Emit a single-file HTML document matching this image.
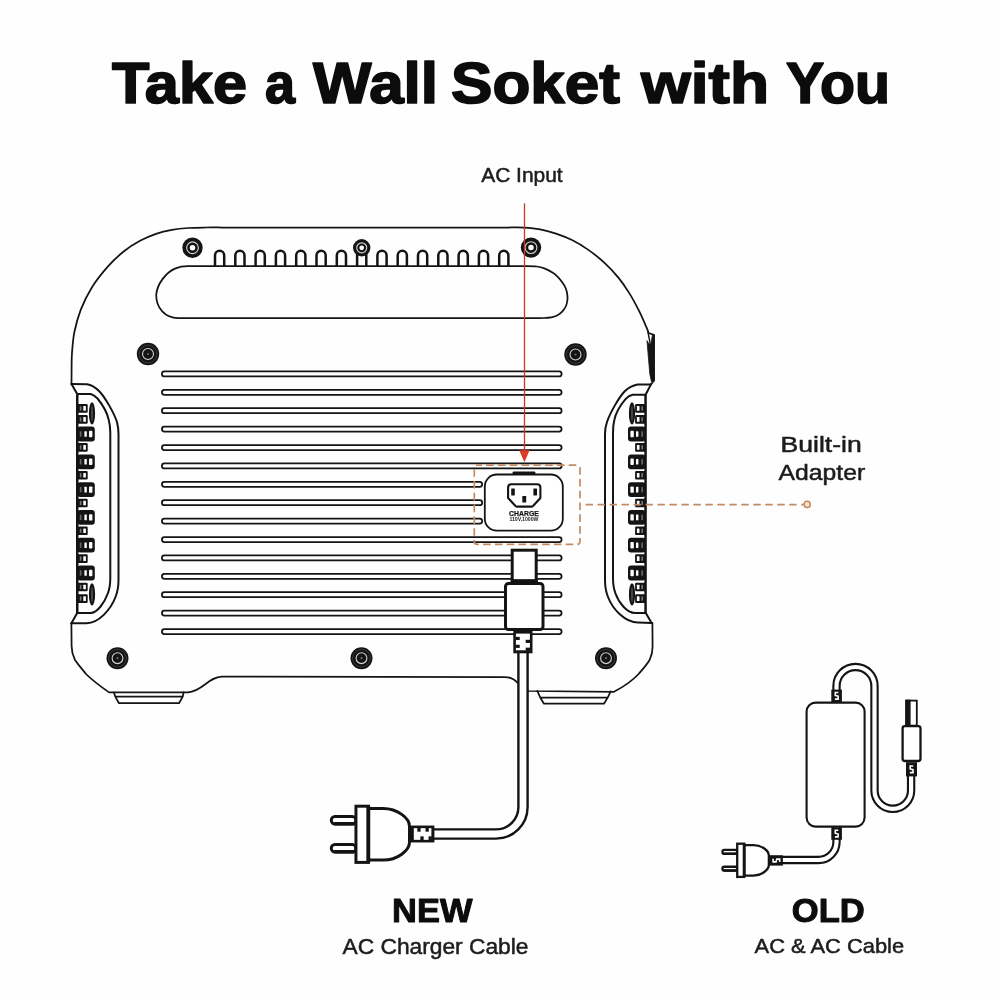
<!DOCTYPE html>
<html lang="en">
<head>
<meta charset="utf-8">
<title>Take a Wall Soket with You</title>
<style>
html,body{margin:0;padding:0;background:#fefefe;}
body{width:1000px;height:1000px;overflow:hidden;font-family:"Liberation Sans",sans-serif;}
svg{display:block;font-family:"Liberation Sans",sans-serif;}
</style>
</head>
<body>
<svg width="1000" height="1000" viewBox="0 0 1000 1000">
<defs><filter id="gs" filterUnits="userSpaceOnUse" x="0" y="0" width="1000" height="1000" color-interpolation-filters="sRGB"><feColorMatrix type="saturate" values="0"/></filter></defs>
<rect width="1000" height="1000" fill="#fefefe"/>
<text filter="url(#gs)" x="112.0" y="103.0" textLength="135.01" lengthAdjust="spacingAndGlyphs" font-size="57.0" font-weight="700" fill="#0c0c0c" stroke="#0c0c0c" stroke-width="1.7" stroke-linejoin="round">Take</text>
<text filter="url(#gs)" x="265.0" y="103.0" textLength="30.0" lengthAdjust="spacingAndGlyphs" font-size="57.0" font-weight="700" fill="#0c0c0c" stroke="#0c0c0c" stroke-width="1.7" stroke-linejoin="round">a</text>
<text filter="url(#gs)" x="313.02" y="103.0" textLength="125.03" lengthAdjust="spacingAndGlyphs" font-size="57.0" font-weight="700" fill="#0c0c0c" stroke="#0c0c0c" stroke-width="1.7" stroke-linejoin="round">Wall</text>
<text filter="url(#gs)" x="450.99" y="103.0" textLength="169.01" lengthAdjust="spacingAndGlyphs" font-size="57.0" font-weight="700" fill="#0c0c0c" stroke="#0c0c0c" stroke-width="1.7" stroke-linejoin="round">Soket</text>
<text filter="url(#gs)" x="641.02" y="103.0" textLength="128.03" lengthAdjust="spacingAndGlyphs" font-size="57.0" font-weight="700" fill="#0c0c0c" stroke="#0c0c0c" stroke-width="1.7" stroke-linejoin="round">with</text>
<text filter="url(#gs)" x="786.0" y="103.0" textLength="104.09" lengthAdjust="spacingAndGlyphs" font-size="57.0" font-weight="700" fill="#0c0c0c" stroke="#0c0c0c" stroke-width="1.7" stroke-linejoin="round">You</text>
<text filter="url(#gs)" x="481.19" y="181.5" textLength="81.52" lengthAdjust="spacingAndGlyphs" font-size="20.5" font-weight="400" fill="#1c1c1c" stroke="#1c1c1c" stroke-width="0.5" stroke-linejoin="round">AC Input</text>
<text filter="url(#gs)" x="780.52" y="452" textLength="81.24" lengthAdjust="spacingAndGlyphs" font-size="21.2" font-weight="400" fill="#1c1c1c" stroke="#1c1c1c" stroke-width="0.5" stroke-linejoin="round">Built-in</text>
<text filter="url(#gs)" x="778.59" y="480.4" textLength="86.61" lengthAdjust="spacingAndGlyphs" font-size="21.2" font-weight="400" fill="#1c1c1c" stroke="#1c1c1c" stroke-width="0.5" stroke-linejoin="round">Adapter</text>
<text filter="url(#gs)" x="392.14" y="922.4" textLength="80.37" lengthAdjust="spacingAndGlyphs" font-size="34.0" font-weight="700" fill="#0c0c0c" stroke="#0c0c0c" stroke-width="1.0" stroke-linejoin="round">NEW</text>
<text filter="url(#gs)" x="342.49" y="953.8" textLength="186.02" lengthAdjust="spacingAndGlyphs" font-size="22" font-weight="400" fill="#1c1c1c" stroke="#1c1c1c" stroke-width="0.5" stroke-linejoin="round">AC Charger Cable</text>
<text filter="url(#gs)" x="791.77" y="921.7" textLength="72.95" lengthAdjust="spacingAndGlyphs" font-size="33.7" font-weight="700" fill="#0c0c0c" stroke="#0c0c0c" stroke-width="1.0" stroke-linejoin="round">OLD</text>
<text filter="url(#gs)" x="754.59" y="953.4" textLength="149.52" lengthAdjust="spacingAndGlyphs" font-size="20.8" font-weight="400" fill="#1c1c1c" stroke="#1c1c1c" stroke-width="0.5" stroke-linejoin="round">AC &amp; AC Cable</text>
<g fill="none" stroke="#141414" stroke-width="1.75" stroke-linecap="round" stroke-linejoin="round">
<path d="M71.5,384 L71.6,366 C71.67,363.80 71.53,358.47 72.00,352.80 C72.47,347.13 72.93,339.20 74.40,332.00 C75.87,324.80 77.87,317.07 80.80,309.60 C83.73,302.13 87.47,294.40 92.00,287.20 C96.53,280.00 102.67,272.40 108.00,266.40 C113.33,260.40 118.67,255.47 124.00,251.20 C129.33,246.93 134.67,243.70 140.00,240.80 C145.33,237.90 150.67,235.63 156.00,233.80 C161.33,231.97 166.67,230.77 172.00,229.80 C177.33,228.83 182.33,228.38 188.00,228.00 C193.67,227.62 200.33,227.58 206.00,227.50 C211.67,227.42 219.33,227.50 222.00,227.50 L508,227.5 C510.67,227.52 518.67,227.30 524.00,227.60 C529.33,227.90 534.67,228.30 540.00,229.30 C545.33,230.30 550.67,231.82 556.00,233.60 C561.33,235.38 566.67,237.33 572.00,240.00 C577.33,242.67 582.67,245.87 588.00,249.60 C593.33,253.33 598.93,257.73 604.00,262.40 C609.07,267.07 614.13,272.40 618.40,277.60 C622.67,282.80 626.13,288.00 629.60,293.60 C633.07,299.20 636.40,305.60 639.20,311.20 C642.00,316.80 644.83,323.57 646.40,327.20 C647.97,330.83 648.23,332.03 648.60,333.00 L654,334.8 L653.8,380.8 L650.8,384.6 M652.4,623 L652.6,647 C652.6,653 651,657 649.6,660 C646,666 641,671 638.6,674 C633,680 625,686 614,691.8 L529,691 C520,690 518,677 505,677 L222,676.6 C208,677 203,691 188,692.4 L109,692.4 C100,686 92,680 86,674 C84,671 79,666 75,660 C73.5,657 71.6,653 71.6,646 L71.4,623.2"/>
<path d="M114,692.4 L115.2,696.6 L119,703.2 L179,703.2 L182.8,696.6 L183.6,692.4 M115.2,696.6 L182.8,696.6"/>
<path d="M537.3,691 L540.3,697.7 L544,703.7 L604,703.7 L607.7,697.6 L610.7,691.4 M540.3,697.7 L607.7,697.6"/>
<path d="M647,341 L649.8,374 L651.4,381.5 L654.5,381 L654.5,335.4 L652.4,335 L650.6,346 Z" fill="#141414" stroke="#141414" stroke-width="0.8"/>
<path d="M648,332 L650.4,345" stroke-width="1.4"/>
<path d="M188,266.2 L524,266.2 C526.13,266.25 533.30,266.10 536.80,266.50 C540.30,266.90 542.33,267.55 545.00,268.60 C547.67,269.65 550.63,271.37 552.80,272.80 C554.97,274.23 556.40,275.57 558.00,277.20 C559.60,278.83 561.13,280.80 562.40,282.60 C563.67,284.40 564.80,286.10 565.60,288.00 C566.40,289.90 566.90,292.00 567.20,294.00 C567.50,296.00 567.60,298.00 567.40,300.00 C567.20,302.00 566.83,304.10 566.00,306.00 C565.17,307.90 563.82,309.85 562.40,311.40 C560.98,312.95 559.37,314.30 557.50,315.30 C555.63,316.30 553.45,316.95 551.20,317.40 C548.95,317.85 547.53,317.90 544.00,318.00 C540.47,318.10 532.33,318.00 530.00,318.00 L178,318 C165,318 156.2,308 156.2,295 C157,284 166,272.5 175,268.6 C179,266.9 183,266.2 188,266.2 Z"/>
<rect x="161.9" y="371.40" width="399.70000000000005" height="5.0" rx="2.5" stroke-width="1.75"/>
<rect x="161.9" y="389.80" width="399.70000000000005" height="5.0" rx="2.5" stroke-width="1.75"/>
<rect x="161.9" y="408.20" width="399.70000000000005" height="5.0" rx="2.5" stroke-width="1.75"/>
<rect x="161.9" y="426.60" width="399.70000000000005" height="5.0" rx="2.5" stroke-width="1.75"/>
<rect x="161.9" y="445.00" width="399.70000000000005" height="5.0" rx="2.5" stroke-width="1.75"/>
<rect x="161.9" y="463.40" width="399.70000000000005" height="5.0" rx="2.5" stroke-width="1.75"/>
<rect x="161.9" y="481.80" width="320.29999999999995" height="5.0" rx="2.5" stroke-width="1.75"/>
<rect x="161.9" y="500.20" width="320.29999999999995" height="5.0" rx="2.5" stroke-width="1.75"/>
<rect x="161.9" y="518.60" width="320.29999999999995" height="5.0" rx="2.5" stroke-width="1.75"/>
<rect x="161.9" y="537.00" width="399.70000000000005" height="5.0" rx="2.5" stroke-width="1.75"/>
<rect x="161.9" y="555.40" width="399.70000000000005" height="5.0" rx="2.5" stroke-width="1.75"/>
<rect x="161.9" y="573.80" width="399.70000000000005" height="5.0" rx="2.5" stroke-width="1.75"/>
<rect x="161.9" y="592.20" width="399.70000000000005" height="5.0" rx="2.5" stroke-width="1.75"/>
<rect x="161.9" y="610.60" width="399.70000000000005" height="5.0" rx="2.5" stroke-width="1.75"/>
<rect x="161.9" y="629.00" width="399.70000000000005" height="5.0" rx="2.5" stroke-width="1.75"/>
</g>
<g fill="none" stroke="#141414" stroke-width="2.5" stroke-linecap="butt">
<path d="M215.0,266.4 L215.0,255.4 A4.6,4.6 0 0 1 224.2,255.4 L224.2,266.4"/>
<path d="M235.3,266.4 L235.3,255.4 A4.6,4.6 0 0 1 244.5,255.4 L244.5,266.4"/>
<path d="M255.6,266.4 L255.6,255.4 A4.6,4.6 0 0 1 264.8,255.4 L264.8,266.4"/>
<path d="M275.9,266.4 L275.9,255.4 A4.6,4.6 0 0 1 285.1,255.4 L285.1,266.4"/>
<path d="M296.2,266.4 L296.2,255.4 A4.6,4.6 0 0 1 305.4,255.4 L305.4,266.4"/>
<path d="M316.5,266.4 L316.5,255.4 A4.6,4.6 0 0 1 325.7,255.4 L325.7,266.4"/>
<path d="M336.8,266.4 L336.8,255.4 A4.6,4.6 0 0 1 346.0,255.4 L346.0,266.4"/>
<path d="M357.1,266.4 L357.1,255.4 A4.6,4.6 0 0 1 366.3,255.4 L366.3,266.4"/>
<path d="M377.4,266.4 L377.4,255.4 A4.6,4.6 0 0 1 386.6,255.4 L386.6,266.4"/>
<path d="M397.7,266.4 L397.7,255.4 A4.6,4.6 0 0 1 406.9,255.4 L406.9,266.4"/>
<path d="M418.0,266.4 L418.0,255.4 A4.6,4.6 0 0 1 427.2,255.4 L427.2,266.4"/>
<path d="M438.3,266.4 L438.3,255.4 A4.6,4.6 0 0 1 447.5,255.4 L447.5,266.4"/>
<path d="M458.6,266.4 L458.6,255.4 A4.6,4.6 0 0 1 467.8,255.4 L467.8,266.4"/>
<path d="M478.9,266.4 L478.9,255.4 A4.6,4.6 0 0 1 488.1,255.4 L488.1,266.4"/>
<path d="M499.2,266.4 L499.2,255.4 A4.6,4.6 0 0 1 508.4,255.4 L508.4,266.4"/>
</g>
<circle cx="192.5" cy="247.8" r="10.2" fill="#141414"/>
<circle cx="192.5" cy="247.8" r="5.86" fill="none" stroke="#cfcfcf" stroke-width="1.15"/>
<circle cx="192.5" cy="247.8" r="2.75" fill="#fff"/>
<circle cx="361.7" cy="247.8" r="8.7" fill="#141414"/>
<circle cx="361.7" cy="247.8" r="5.00" fill="none" stroke="#cfcfcf" stroke-width="1.15"/>
<circle cx="361.7" cy="247.8" r="2.35" fill="#fff"/>
<circle cx="531" cy="247.6" r="10.2" fill="#141414"/>
<circle cx="531" cy="247.6" r="5.86" fill="none" stroke="#cfcfcf" stroke-width="1.15"/>
<circle cx="531" cy="247.6" r="2.75" fill="#fff"/>
<circle cx="148" cy="354" r="11.2" fill="#141414"/>
<circle cx="148" cy="354" r="8.96" fill="none" stroke="#4a4a4a" stroke-width="0.7"/>
<circle cx="148" cy="354" r="5.49" fill="none" stroke="#d2d2d2" stroke-width="1.1"/>
<circle cx="148" cy="354" r="1.1" fill="#6a6a6a"/>
<circle cx="575.5" cy="354.5" r="11.2" fill="#141414"/>
<circle cx="575.5" cy="354.5" r="8.96" fill="none" stroke="#4a4a4a" stroke-width="0.7"/>
<circle cx="575.5" cy="354.5" r="5.49" fill="none" stroke="#d2d2d2" stroke-width="1.1"/>
<circle cx="575.5" cy="354.5" r="1.1" fill="#6a6a6a"/>
<circle cx="117.5" cy="658.2" r="11.0" fill="#141414"/>
<circle cx="117.5" cy="658.2" r="8.80" fill="none" stroke="#4a4a4a" stroke-width="0.7"/>
<circle cx="117.5" cy="658.2" r="5.39" fill="none" stroke="#d2d2d2" stroke-width="1.1"/>
<circle cx="117.5" cy="658.2" r="1.1" fill="#6a6a6a"/>
<circle cx="361.5" cy="658.2" r="11.0" fill="#141414"/>
<circle cx="361.5" cy="658.2" r="8.80" fill="none" stroke="#4a4a4a" stroke-width="0.7"/>
<circle cx="361.5" cy="658.2" r="5.39" fill="none" stroke="#d2d2d2" stroke-width="1.1"/>
<circle cx="361.5" cy="658.2" r="1.1" fill="#6a6a6a"/>
<circle cx="606" cy="658.2" r="11.0" fill="#141414"/>
<circle cx="606" cy="658.2" r="8.80" fill="none" stroke="#4a4a4a" stroke-width="0.7"/>
<circle cx="606" cy="658.2" r="5.39" fill="none" stroke="#d2d2d2" stroke-width="1.1"/>
<circle cx="606" cy="658.2" r="1.1" fill="#6a6a6a"/>
<g fill="none" stroke="#141414" stroke-width="2.0" stroke-linecap="round" stroke-linejoin="round">
<path d="M71.5,384 L87,384.2 C92,385 96,388 99,391 C105,397 114,413 117,422 C118,426 118.5,430 118.5,434 L118.5,580 C118.5,586 117.5,592 115.5,597 C111,609 99,623.2 86.6,623.2 L71.4,623.2"/>
<path d="M71.5,384 L77.2,394 L90.7,394 C94,395 96,397 97.5,398.5 C102,404 107,412 108.8,420 C109.8,424 110.3,428 110.3,433 L110.3,578 C110.3,584 109.5,589 108,593 C104.5,603 97,613 90.6,613 L77.2,613 L71.4,623.2"/>
<path d="M650.8,384.6 L637.6,384.4 C632,385.5 628,388 625,391 C619,397 610,413 607,422 C605.6,426 605,430 605,434 L605,580 C605,586 606,592 608,597 C612.5,609 625,622.4 638,622.4 L651.6,623"/>
<path d="M650.8,384.6 L645.6,394.8 L632.5,394.8 C629,395.8 627,397.5 625.5,399.2 C621,404.5 616,412 614.3,420 C613.3,424 613,428 613,433 L613,578 C613,584 613.8,589 615.3,593 C618.8,603 627,613 635,613 L645.8,613 L651.6,623"/>
</g>
<rect x="76.00" y="394.50" width="2.50" height="218.50" rx="0" fill="#141414"/>
<rect x="77.20" y="443.10" width="10.50" height="8.60" rx="1.2" fill="#141414"/>
<rect x="79.80" y="445.30" width="1.60" height="4.20" rx="0" fill="#7a7a7a"/>
<rect x="83.30" y="445.10" width="2.60" height="4.60" rx="0.5" fill="#fff"/>
<rect x="77.20" y="470.90" width="10.50" height="8.60" rx="1.2" fill="#141414"/>
<rect x="79.80" y="473.10" width="1.60" height="4.20" rx="0" fill="#7a7a7a"/>
<rect x="83.30" y="472.90" width="2.60" height="4.60" rx="0.5" fill="#fff"/>
<rect x="77.20" y="498.70" width="10.50" height="8.60" rx="1.2" fill="#141414"/>
<rect x="79.80" y="500.90" width="1.60" height="4.20" rx="0" fill="#7a7a7a"/>
<rect x="83.30" y="500.70" width="2.60" height="4.60" rx="0.5" fill="#fff"/>
<rect x="77.20" y="526.50" width="10.50" height="8.60" rx="1.2" fill="#141414"/>
<rect x="79.80" y="528.70" width="1.60" height="4.20" rx="0" fill="#7a7a7a"/>
<rect x="83.30" y="528.50" width="2.60" height="4.60" rx="0.5" fill="#fff"/>
<rect x="77.20" y="554.30" width="10.50" height="8.60" rx="1.2" fill="#141414"/>
<rect x="79.80" y="556.50" width="1.60" height="4.20" rx="0" fill="#7a7a7a"/>
<rect x="83.30" y="556.30" width="2.60" height="4.60" rx="0.5" fill="#fff"/>
<rect x="77.20" y="404.10" width="10.50" height="8.60" rx="1.2" fill="#141414"/>
<rect x="79.80" y="406.30" width="1.60" height="4.20" rx="0" fill="#7a7a7a"/>
<rect x="83.30" y="406.10" width="2.60" height="4.60" rx="0.5" fill="#fff"/>
<rect x="77.20" y="415.10" width="10.50" height="8.60" rx="1.2" fill="#141414"/>
<rect x="79.80" y="417.30" width="1.60" height="4.20" rx="0" fill="#7a7a7a"/>
<rect x="83.30" y="417.10" width="2.60" height="4.60" rx="0.5" fill="#fff"/>
<rect x="77.20" y="582.70" width="10.50" height="8.60" rx="1.2" fill="#141414"/>
<rect x="79.80" y="584.90" width="1.60" height="4.20" rx="0" fill="#7a7a7a"/>
<rect x="83.30" y="584.70" width="2.60" height="4.60" rx="0.5" fill="#fff"/>
<rect x="77.20" y="594.30" width="10.50" height="8.60" rx="1.2" fill="#141414"/>
<rect x="79.80" y="596.50" width="1.60" height="4.20" rx="0" fill="#7a7a7a"/>
<rect x="83.30" y="596.30" width="2.60" height="4.60" rx="0.5" fill="#fff"/>
<rect x="77.20" y="426.60" width="17.60" height="14.80" rx="3" fill="#141414"/>
<rect x="79.80" y="431.30" width="1.70" height="5.40" rx="0" fill="#666"/>
<rect x="84.40" y="431.20" width="2.40" height="5.60" rx="0.5" fill="#fff"/>
<rect x="89.00" y="430.80" width="3.40" height="6.40" rx="0.9" fill="#fff"/>
<rect x="77.20" y="454.40" width="17.60" height="14.80" rx="3" fill="#141414"/>
<rect x="79.80" y="459.10" width="1.70" height="5.40" rx="0" fill="#666"/>
<rect x="84.40" y="459.00" width="2.40" height="5.60" rx="0.5" fill="#fff"/>
<rect x="89.00" y="458.60" width="3.40" height="6.40" rx="0.9" fill="#fff"/>
<rect x="77.20" y="482.20" width="17.60" height="14.80" rx="3" fill="#141414"/>
<rect x="79.80" y="486.90" width="1.70" height="5.40" rx="0" fill="#666"/>
<rect x="84.40" y="486.80" width="2.40" height="5.60" rx="0.5" fill="#fff"/>
<rect x="89.00" y="486.40" width="3.40" height="6.40" rx="0.9" fill="#fff"/>
<rect x="77.20" y="510.00" width="17.60" height="14.80" rx="3" fill="#141414"/>
<rect x="79.80" y="514.70" width="1.70" height="5.40" rx="0" fill="#666"/>
<rect x="84.40" y="514.60" width="2.40" height="5.60" rx="0.5" fill="#fff"/>
<rect x="89.00" y="514.20" width="3.40" height="6.40" rx="0.9" fill="#fff"/>
<rect x="77.20" y="537.80" width="17.60" height="14.80" rx="3" fill="#141414"/>
<rect x="79.80" y="542.50" width="1.70" height="5.40" rx="0" fill="#666"/>
<rect x="84.40" y="542.40" width="2.40" height="5.60" rx="0.5" fill="#fff"/>
<rect x="89.00" y="542.00" width="3.40" height="6.40" rx="0.9" fill="#fff"/>
<rect x="77.20" y="565.60" width="17.60" height="14.80" rx="3" fill="#141414"/>
<rect x="79.80" y="570.30" width="1.70" height="5.40" rx="0" fill="#666"/>
<rect x="84.40" y="570.20" width="2.40" height="5.60" rx="0.5" fill="#fff"/>
<rect x="89.00" y="569.80" width="3.40" height="6.40" rx="0.9" fill="#fff"/>
<rect x="644.30" y="394.50" width="2.50" height="218.50" rx="0" fill="#141414"/>
<rect x="635.10" y="443.10" width="10.50" height="8.60" rx="1.2" fill="#141414"/>
<rect x="641.40" y="445.30" width="1.60" height="4.20" rx="0" fill="#7a7a7a"/>
<rect x="636.90" y="445.10" width="2.60" height="4.60" rx="0.5" fill="#fff"/>
<rect x="635.10" y="470.90" width="10.50" height="8.60" rx="1.2" fill="#141414"/>
<rect x="641.40" y="473.10" width="1.60" height="4.20" rx="0" fill="#7a7a7a"/>
<rect x="636.90" y="472.90" width="2.60" height="4.60" rx="0.5" fill="#fff"/>
<rect x="635.10" y="498.70" width="10.50" height="8.60" rx="1.2" fill="#141414"/>
<rect x="641.40" y="500.90" width="1.60" height="4.20" rx="0" fill="#7a7a7a"/>
<rect x="636.90" y="500.70" width="2.60" height="4.60" rx="0.5" fill="#fff"/>
<rect x="635.10" y="526.50" width="10.50" height="8.60" rx="1.2" fill="#141414"/>
<rect x="641.40" y="528.70" width="1.60" height="4.20" rx="0" fill="#7a7a7a"/>
<rect x="636.90" y="528.50" width="2.60" height="4.60" rx="0.5" fill="#fff"/>
<rect x="635.10" y="554.30" width="10.50" height="8.60" rx="1.2" fill="#141414"/>
<rect x="641.40" y="556.50" width="1.60" height="4.20" rx="0" fill="#7a7a7a"/>
<rect x="636.90" y="556.30" width="2.60" height="4.60" rx="0.5" fill="#fff"/>
<rect x="635.10" y="404.10" width="10.50" height="8.60" rx="1.2" fill="#141414"/>
<rect x="641.40" y="406.30" width="1.60" height="4.20" rx="0" fill="#7a7a7a"/>
<rect x="636.90" y="406.10" width="2.60" height="4.60" rx="0.5" fill="#fff"/>
<rect x="635.10" y="415.10" width="10.50" height="8.60" rx="1.2" fill="#141414"/>
<rect x="641.40" y="417.30" width="1.60" height="4.20" rx="0" fill="#7a7a7a"/>
<rect x="636.90" y="417.10" width="2.60" height="4.60" rx="0.5" fill="#fff"/>
<rect x="635.10" y="582.70" width="10.50" height="8.60" rx="1.2" fill="#141414"/>
<rect x="641.40" y="584.90" width="1.60" height="4.20" rx="0" fill="#7a7a7a"/>
<rect x="636.90" y="584.70" width="2.60" height="4.60" rx="0.5" fill="#fff"/>
<rect x="635.10" y="594.30" width="10.50" height="8.60" rx="1.2" fill="#141414"/>
<rect x="641.40" y="596.50" width="1.60" height="4.20" rx="0" fill="#7a7a7a"/>
<rect x="636.90" y="596.30" width="2.60" height="4.60" rx="0.5" fill="#fff"/>
<rect x="628.00" y="426.60" width="17.60" height="14.80" rx="3" fill="#141414"/>
<rect x="641.30" y="431.30" width="1.70" height="5.40" rx="0" fill="#666"/>
<rect x="636.00" y="431.20" width="2.40" height="5.60" rx="0.5" fill="#fff"/>
<rect x="630.40" y="430.80" width="3.40" height="6.40" rx="0.9" fill="#fff"/>
<rect x="628.00" y="454.40" width="17.60" height="14.80" rx="3" fill="#141414"/>
<rect x="641.30" y="459.10" width="1.70" height="5.40" rx="0" fill="#666"/>
<rect x="636.00" y="459.00" width="2.40" height="5.60" rx="0.5" fill="#fff"/>
<rect x="630.40" y="458.60" width="3.40" height="6.40" rx="0.9" fill="#fff"/>
<rect x="628.00" y="482.20" width="17.60" height="14.80" rx="3" fill="#141414"/>
<rect x="641.30" y="486.90" width="1.70" height="5.40" rx="0" fill="#666"/>
<rect x="636.00" y="486.80" width="2.40" height="5.60" rx="0.5" fill="#fff"/>
<rect x="630.40" y="486.40" width="3.40" height="6.40" rx="0.9" fill="#fff"/>
<rect x="628.00" y="510.00" width="17.60" height="14.80" rx="3" fill="#141414"/>
<rect x="641.30" y="514.70" width="1.70" height="5.40" rx="0" fill="#666"/>
<rect x="636.00" y="514.60" width="2.40" height="5.60" rx="0.5" fill="#fff"/>
<rect x="630.40" y="514.20" width="3.40" height="6.40" rx="0.9" fill="#fff"/>
<rect x="628.00" y="537.80" width="17.60" height="14.80" rx="3" fill="#141414"/>
<rect x="641.30" y="542.50" width="1.70" height="5.40" rx="0" fill="#666"/>
<rect x="636.00" y="542.40" width="2.40" height="5.60" rx="0.5" fill="#fff"/>
<rect x="630.40" y="542.00" width="3.40" height="6.40" rx="0.9" fill="#fff"/>
<rect x="628.00" y="565.60" width="17.60" height="14.80" rx="3" fill="#141414"/>
<rect x="641.30" y="570.30" width="1.70" height="5.40" rx="0" fill="#666"/>
<rect x="636.00" y="570.20" width="2.40" height="5.60" rx="0.5" fill="#fff"/>
<rect x="630.40" y="569.80" width="3.40" height="6.40" rx="0.9" fill="#fff"/>
<ellipse cx="92" cy="413.4" rx="3.1" ry="11.2" fill="#141414"/>
<ellipse cx="92" cy="413.4" rx="0.8" ry="8" fill="#555"/>
<ellipse cx="92" cy="594.4" rx="3.1" ry="11.2" fill="#141414"/>
<ellipse cx="92" cy="594.4" rx="0.8" ry="8" fill="#555"/>
<ellipse cx="632" cy="413.4" rx="3.1" ry="11.2" fill="#141414"/>
<ellipse cx="632" cy="413.4" rx="0.8" ry="8" fill="#555"/>
<ellipse cx="632" cy="594.4" rx="3.1" ry="11.2" fill="#141414"/>
<ellipse cx="632" cy="594.4" rx="0.8" ry="8" fill="#555"/>
<rect x="512.6" y="471.4" width="22.8" height="4" rx="1.2" fill="#141414"/>
<rect x="484.8" y="474.5" width="78" height="56.2" rx="12" fill="#fff" stroke="#141414" stroke-width="1.8"/>
<path d="M511.5,484.2 L537,484.2 Q540.4,484.2 540.4,487.6 L540.4,498 L533,506 Q532.3,506.6 531.3,506.6 L517.2,506.6 Q516.2,506.6 515.5,506 L508.1,498 L508.1,487.6 Q508.1,484.2 511.5,484.2 Z" fill="none" stroke="#141414" stroke-width="2.1" stroke-linejoin="round"/>
<rect x="511.2" y="488.5" width="3.6" height="6.9" rx="0.4" fill="#141414"/>
<rect x="533.4" y="488.5" width="3.6" height="6.9" rx="0.4" fill="#141414"/>
<rect x="522.3" y="496" width="3.9" height="6.6" rx="0.4" fill="#141414"/>
<text filter="url(#gs)" x="509.1" y="515.9" textLength="29.7" lengthAdjust="spacingAndGlyphs" font-size="7.5" font-weight="700" fill="#111" stroke="#111" stroke-width="0.25" stroke-linejoin="round">CHARGE</text>
<text filter="url(#gs)" x="509.4" y="521.3" textLength="29.1" lengthAdjust="spacingAndGlyphs" font-size="5.3" font-weight="700" fill="#222">110V,1000W</text>
<rect x="474.3" y="465.2" width="105.7" height="79.2" rx="3" fill="none" stroke="#c48b63" stroke-width="1.7" stroke-dasharray="7.6 4.2" stroke-dashoffset="3"/>
<path d="M585.6,504.6 L803.5,504.6" stroke="#c48b63" stroke-width="1.7" stroke-dasharray="7.4 4.58" fill="none"/>
<circle cx="807.2" cy="504.4" r="3.1" fill="#fbe3d2" stroke="#c48b63" stroke-width="1.5"/>
<path d="M524.5,203.3 L524.5,452" stroke="#c63a26" stroke-width="1.3" fill="none"/>
<path d="M519.2,450.2 L529.6,450.2 L524.4,462.2 Z" fill="#dc3b24"/>
<path d="M523.0,650 L523.0,807 A27,27 0 0 1 496.0,834 L432,834" fill="none" stroke="#141414" stroke-width="11.6" stroke-linecap="butt" stroke-linejoin="round"/>
<path d="M523.0,650 L523.0,807 A27,27 0 0 1 496.0,834 L432,834" fill="none" stroke="#fff" stroke-width="6.8" stroke-linecap="butt" stroke-linejoin="round"/>
<rect x="512.2" y="550.2" width="24" height="31" fill="#fff" stroke="#141414" stroke-width="3"/>
<rect x="505.5" y="583.5" width="37.5" height="46" rx="3" fill="#fff" stroke="#141414" stroke-width="3"/>
<path d="M510.7,581 L537.7,581" stroke="#141414" stroke-width="3.6"/>
<rect x="513.30" y="630.8" width="19.2" height="22.5" fill="#141414"/>
<rect x="515.90" y="633.5999999999999" width="14.00" height="16.70" fill="#fff"/>
<rect x="515.70" y="636.88" width="4.03" height="3.15" fill="#141414"/>
<rect x="515.70" y="644.75" width="4.03" height="3.15" fill="#141414"/>
<rect x="525.68" y="639.80" width="4.42" height="3.15" fill="#141414"/>
<rect x="525.68" y="647.67" width="4.42" height="3.15" fill="#141414"/>
<rect x="331.25" y="816.60" width="24.70" height="7.40" rx="3.70" fill="#fff" stroke="#141414" stroke-width="3.00"/>
<path d="M334.43,823.75 L354.45,823.75" stroke="#141414" stroke-width="3.50" fill="none"/>
<rect x="331.25" y="844.60" width="24.70" height="7.40" rx="3.70" fill="#fff" stroke="#141414" stroke-width="3.00"/>
<path d="M334.43,851.75 L354.45,851.75" stroke="#141414" stroke-width="3.50" fill="none"/>
<path d="M368.00,808.50 L383.18,808.50 C397.63,808.50 409.50,818.30 409.50,826.30 L409.50,842.30 C409.50,850.30 397.63,860.10 383.18,860.10 L368.00,860.10 Z" fill="#fff" stroke="#141414" stroke-width="3.00" stroke-linejoin="round"/>
<rect x="355.95" y="806.20" width="12.55" height="56.20" fill="#fff" stroke="#141414" stroke-width="3.00" stroke-linejoin="miter"/>
<path d="M368.30,806.20 L368.30,862.40" stroke="#141414" stroke-width="3.90" fill="none"/>
<rect x="411" y="825.55" width="23.399999999999977" height="16.9" fill="#141414"/>
<rect x="413.8" y="828.15" width="17.60" height="11.70" fill="#fff"/>
<rect x="417.32" y="827.95" width="3.28" height="3.72" fill="#141414"/>
<rect x="425.51" y="827.95" width="3.28" height="3.72" fill="#141414"/>
<rect x="420.36" y="836.33" width="3.28" height="3.72" fill="#141414"/>
<rect x="428.55" y="836.33" width="3.28" height="3.72" fill="#141414"/>
<path d="M836.5,702 L836.5,686 A19,19 0 0 1 874.5,686 L874.5,790.5 A18.3,18.3 0 0 0 911.1,790.5 L911.1,776" fill="none" stroke="#141414" stroke-width="8.4" stroke-linecap="butt" stroke-linejoin="round"/>
<path d="M836.5,702 L836.5,686 A19,19 0 0 1 874.5,686 L874.5,790.5 A18.3,18.3 0 0 0 911.1,790.5 L911.1,776" fill="none" stroke="#fff" stroke-width="4.2" stroke-linecap="butt" stroke-linejoin="round"/>
<path d="M836.5,827 L836.5,842 A18,18 0 0 1 818.5,860 L782,860" fill="none" stroke="#141414" stroke-width="8.4" stroke-linecap="butt" stroke-linejoin="round"/>
<path d="M836.5,827 L836.5,842 A18,18 0 0 1 818.5,860 L782,860" fill="none" stroke="#fff" stroke-width="4.2" stroke-linecap="butt" stroke-linejoin="round"/>
<rect x="806.6" y="702.6" width="58" height="124" rx="9" fill="#fff" stroke="#141414" stroke-width="2.1"/>
<rect x="831.3" y="689.6" width="10.6" height="12.4" fill="#141414"/>
<path d="M838.3,692.5 L835.3,692.5 L835.3,695.4 L838.1,696.2 L838.1,699.1 L834.9,699.1" fill="none" stroke="#fff" stroke-width="1.6"/>
<rect x="831.3" y="827.4" width="10.6" height="12.4" fill="#141414"/>
<path d="M838.3,830.3 L835.3,830.3 L835.3,833.2 L838.1,834.0 L838.1,836.9 L834.9,836.9" fill="none" stroke="#fff" stroke-width="1.6"/>
<rect x="906" y="762.2" width="11" height="14.2" fill="#141414"/>
<path d="M913.2,766.0 L910.2,766.0 L910.2,768.9 L913.0,769.7 L913.0,772.6 L909.8,772.6" fill="none" stroke="#fff" stroke-width="1.6"/>
<rect x="769.9" y="855.2" width="13" height="10.4" fill="#141414"/>
<path d="M778.1,857.1 L775.1,857.1 L775.1,860.0 L777.9,860.8 L777.9,863.7 L774.7,863.7" fill="none" stroke="#fff" stroke-width="1.6" transform="rotate(90 776.40 860.40)"/>
<rect x="906.2" y="700.6" width="10.6" height="25" fill="#fff" stroke="#141414" stroke-width="1.8"/>
<rect x="905.3" y="699.7" width="5.3" height="26" fill="#141414"/>
<rect x="902.6" y="726.2" width="17.9" height="34.8" rx="2.2" fill="#fff" stroke="#141414" stroke-width="2.3"/>
<rect x="722.40" y="849.93" width="14.82" height="3.94" rx="1.97" fill="#fff" stroke="#141414" stroke-width="2.30"/>
<path d="M724.06,853.72 L736.07,853.72" stroke="#141414" stroke-width="2.60" fill="none"/>
<rect x="722.40" y="866.73" width="14.82" height="3.94" rx="1.97" fill="#fff" stroke="#141414" stroke-width="2.30"/>
<path d="M724.06,870.52 L736.07,870.52" stroke="#141414" stroke-width="2.60" fill="none"/>
<path d="M743.95,845.07 L753.32,845.07 C761.84,845.07 768.85,850.86 768.85,855.50 L768.85,865.10 C768.85,869.74 761.84,875.53 753.32,875.53 L743.95,875.53 Z" fill="#fff" stroke="#141414" stroke-width="2.30" stroke-linejoin="round"/>
<rect x="737.22" y="843.69" width="7.03" height="33.22" fill="#fff" stroke="#141414" stroke-width="2.30" stroke-linejoin="miter"/>
<path d="M744.13,843.69 L744.13,876.91" stroke="#141414" stroke-width="2.84" fill="none"/>
</svg>
</body>
</html>
